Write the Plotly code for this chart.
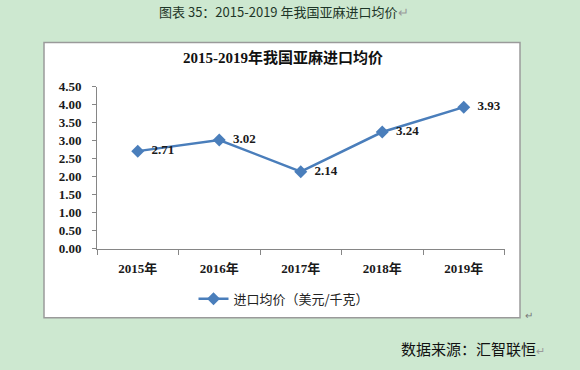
import plotly.graph_objects as go

years = ["2015年", "2016年", "2017年", "2018年", "2019年"]
prices = [2.71, 3.02, 2.14, 3.24, 3.93]
series_name = "进口均价（美元/千克）"
chart_title = "2015-2019年我国亚麻进口均价"
caption = "图表 35：2015-2019 年我国亚麻进口均价"
source = "数据来源：汇智联恒"

W, H = 580, 370
def px(x): return x / W
def py(y): return 1 - y / H

serif = "Times New Roman, Liberation Serif, Noto Sans CJK SC"
cjk = "SimSun, Noto Sans CJK SC"

fig = go.Figure()
fig.add_trace(go.Scatter(
    x=years, y=prices, name=series_name,
    mode="lines+markers+text",
    line=dict(color="#4a7ebb", width=2.5),
    marker=dict(symbol="diamond", size=10, color="#4a7ebb"),
    text=[f"  <b>{v:.2f}</b>" for v in prices],
    textposition="middle right",
    textfont=dict(family=serif, size=13, color="#1a1a1a"),
    cliponaxis=False,
))

fig.update_layout(
    width=W, height=H,
    margin=dict(l=0, r=0, t=0, b=0),
    paper_bgcolor="#cde8d0",
    plot_bgcolor="white",
    showlegend=True,
    legend=dict(x=px(284), y=py(304), xanchor="center", yanchor="middle",
                orientation="h", bgcolor="rgba(0,0,0,0)",
                font=dict(family=cjk, size=13, color="#222222")),
    xaxis=dict(domain=[px(97), px(504.5)], type="category", range=[-0.5, 4.5],
               showline=True, linecolor="#868686", linewidth=1,
               ticks="outside", tickson="boundaries", ticklen=5, tickcolor="#868686",
               showgrid=False, zeroline=False,
               tickfont=dict(family=serif, size=13, color="#1a1a1a", weight="bold"),
               ticklabelstandoff=8),
    yaxis=dict(domain=[py(252), py(83)], range=[0, 4.5], dtick=0.5, tickformat=".2f",
               showline=True, linecolor="#868686", linewidth=1,
               ticks="outside", ticklen=4, tickcolor="#868686",
               showgrid=False, zeroline=False,
               tickfont=dict(family=serif, size=13, color="#1a1a1a", weight="bold"),
               ticklabelstandoff=8),
    shapes=[
        dict(type="rect", xref="paper", yref="paper", layer="below",
             x0=px(44), x1=px(520), y0=py(324), y1=py(37),
             fillcolor="white", line=dict(color="#9a9a9a", width=1.5)),
    ],
    annotations=[
        dict(text=f"<b>{chart_title}</b>", xref="paper", yref="paper",
             x=px(283), y=py(53), xanchor="center", yanchor="middle", showarrow=False,
             font=dict(family=serif, size=15, color="#111111")),
        dict(text=caption + "<span style='color:#9a9a9a'>↵</span>", xref="paper", yref="paper",
             x=px(284), y=py(5), xanchor="center", yanchor="middle", showarrow=False,
             font=dict(family="Noto Sans CJK SC", size=13, color="#1e3628")),
        dict(text=source + "<span style='color:#9a9a9a;font-size:11px'>↵</span>", xref="paper", yref="paper",
             x=px(547), y=py(356), xanchor="right", yanchor="middle", showarrow=False,
             font=dict(family="Noto Sans CJK SC", size=15, color="#111111")),
        dict(text="↵", xref="paper", yref="paper",
             x=px(523), y=py(321), xanchor="left", yanchor="middle", showarrow=False,
             font=dict(family="Noto Sans CJK SC", size=10, color="#777777")),
    ],
)

fig.write_html("out.html")
